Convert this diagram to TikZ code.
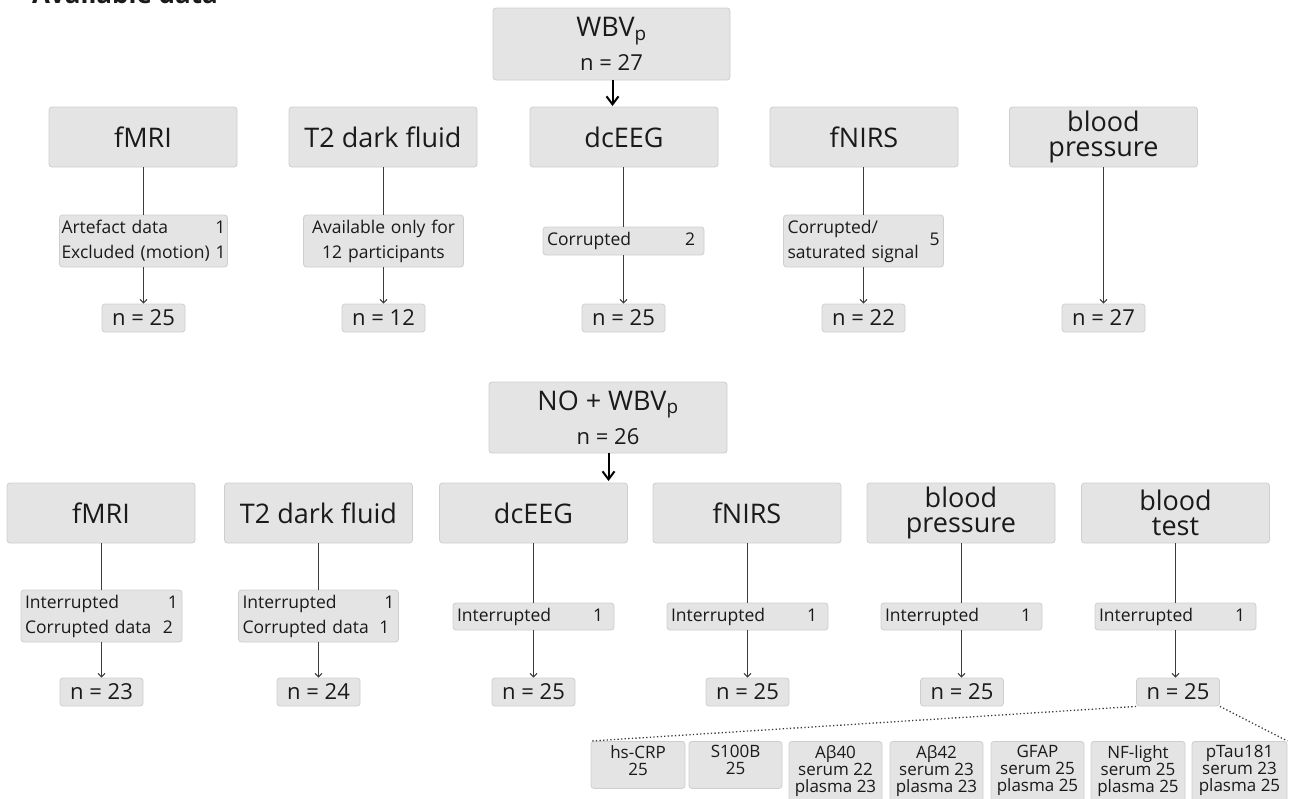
\documentclass[tikz,border=0pt]{standalone}
\usepackage{fontspec}
\setmainfont{Open Sans}
\usetikzlibrary{arrows.meta}
\definecolor{boxfill}{HTML}{E4E4E4}
\definecolor{boxline}{HTML}{CECECE}
\definecolor{conncol}{HTML}{3C3C3C}
\definecolor{txt}{HTML}{1A1A1A}
\begin{document}
\begin{tikzpicture}[x=1pt,y=-1pt,
  box/.style={draw=boxline, fill=boxfill, rounded corners=3pt, line width=0.8pt, inner sep=0pt, text=txt},
  cat/.style={box, minimum width=188, minimum height=60, align=center, font=\fontsize{27}{25}\selectfont},
  topbox/.style={box, align=center, font=\fontsize{22}{34}\selectfont},
  nbox/.style={box, minimum width=83, minimum height=28, font=\fontsize{22}{22}\selectfont},
  ex/.style={box, inner xsep=4pt, align=left, font=\fontsize{17.5}{25}\selectfont},
  bbox/.style={box, anchor=north},
  btext/.style={anchor=north, inner sep=0pt, align=center, text=txt, font=\fontsize{17}{17}\selectfont},
  conn/.style={line width=1.1pt, draw=conncol},
  arr/.style={conn, -{Straight Barb[length=3.5pt,width=7pt]}},
  bigarr/.style={line width=2pt, draw=black, -{Straight Barb[length=8pt,width=12pt]}},
  dotline/.style={line width=1.3pt, draw=conncol, dash pattern=on 1.3pt off 2.3pt}
]
\useasboundingbox (0,0) rectangle (1289,798);

% title (cut by the upper edge, as in the reference)
\node[anchor=base west, inner sep=0pt, text=txt, font=\bfseries\fontsize{26}{26}\selectfont] (title) at (32,3) {Available data};

% ---------------- upper part ----------------
\node[topbox, minimum width=237, minimum height=72] (top) at (611.5,44) {{\fontsize{27}{27}\selectfont WBV\textsubscript{p}}\\n = 27};
\coordinate (a1) at (612.5,106);
\draw[bigarr] (top.south -| a1) -- (a1);

\node[cat] (c1) at (143,137) {fMRI};
\node[cat] (c2) at (383,137) {T2 dark fluid};
\node[cat] (c3) at (624,137) {dcEEG};
\node[cat] (c4) at (864,137) {fNIRS};
\node[cat] (c5) at (1103.5,137) {blood\\pressure};

\node[ex, minimum height=52, inner xsep=2pt, text width=164] (e1) at (143.5,241) {\mbox{Artefact data}\hfill 1\\\mbox{Excluded (motion) 1}};
\node[ex, minimum height=52, text width=152, align=center] (e2) at (383.5,241) {Available only for\\12 participants};
\node[ex, minimum height=28, text width=153] (e3) at (623.5,241) {Corrupted\hfill 2\hspace*{5pt}};
\node[ex, minimum height=52, text width=152] (e4) at (863.5,241) {\begin{tabular}{@{}l@{}}Corrupted/\\\mbox{saturated signal}\end{tabular}\hfill 5};

\node[nbox] (n1) at (143.5,318) {n = 25};
\node[nbox] (n2) at (383.5,318) {n = 12};
\node[nbox] (n3) at (623.5,318) {n = 25};
\node[nbox] (n4) at (863.5,318) {n = 22};
\node[nbox] (n5) at (1103.5,318) {n = 27};

\foreach \i in {1,...,4}{
  \draw[conn] (c\i.south -| e\i.north) -- (e\i.north);
  \draw[arr] (e\i.south) -- (e\i.south |- n\i.north);
}
\draw[arr] (c5) -- (n5);

% ---------------- lower part ----------------
\node[topbox, minimum width=238, minimum height=71] (mid) at (608,417.5) {{\fontsize{27}{27}\selectfont NO + WBV\textsubscript{p}}\\n = 26};
\coordinate (a2) at (608.5,481);
\draw[bigarr] (mid.south -| a2) -- (a2);

\node[cat] (d1) at (101,513) {fMRI};
\node[cat] (d2) at (318.5,513) {T2 dark fluid};
\node[cat] (d3) at (533.5,513) {dcEEG};
\node[cat] (d4) at (747,513) {fNIRS};
\node[cat] (d5) at (961,513) {blood\\pressure};
\node[cat] (d6) at (1175.5,513) {blood\\test};

\node[ex, minimum height=52, text width=153] (f1) at (101.5,616) {Interrupted\hfill 1\hspace*{5pt}\\\mbox{Corrupted data}\hfill 2\hspace*{5pt}};
\node[ex, minimum height=52, text width=152] (f2) at (318.5,616) {Interrupted\hfill 1\hspace*{5pt}\\\mbox{Corrupted data}\hfill 1\hspace*{5pt}};
\node[ex, minimum height=27, text width=153] (f3) at (533.5,616.5) {Interrupted\hfill 1\hspace*{7pt}};
\node[ex, minimum height=27, text width=153] (f4) at (747.5,616.5) {Interrupted\hfill 1\hspace*{7pt}};
\node[ex, minimum height=27, text width=153] (f5) at (961.5,616.5) {Interrupted\hfill 1\hspace*{7pt}};
\node[ex, minimum height=27, text width=153] (f6) at (1175.5,616.5) {Interrupted\hfill 1\hspace*{7pt}};

\node[nbox] (m1) at (101.5,692) {n = 23};
\node[nbox] (m2) at (318.5,692) {n = 24};
\node[nbox] (m3) at (533.5,692) {n = 25};
\node[nbox] (m4) at (747.5,692) {n = 25};
\node[nbox] (m5) at (962,692) {n = 25};
\node[nbox] (m6) at (1178,692) {n = 25};

\foreach \i in {1,...,6}{
  \draw[conn] (d\i.south -| f\i.north) -- (f\i.north);
  \draw[arr] (f\i.south) -- (f\i.south |- m\i.north);
}

% blood test details
\node[bbox, minimum width=94, minimum height=47] (b1) at (638,741) {};
\node[bbox, minimum width=93, minimum height=47] (b2) at (735.5,741) {};
\node[bbox, minimum width=93, minimum height=62] (b3) at (835.5,741) {};
\node[bbox, minimum width=93, minimum height=62] (b4) at (936.5,741) {};
\node[bbox, minimum width=93, minimum height=62] (b5) at (1037.5,741) {};
\node[bbox, minimum width=94, minimum height=62] (b6) at (1138,741) {};
\node[bbox, minimum width=95, minimum height=62] (b7) at (1239.5,741) {};
\node[btext] (t1) at (638,745) {hs-CRP\\25};
\node[btext] (t2) at (735.5,745) {S100B\\25};
\node[btext] (t3) at (835.5,745) {Aβ40\\serum 22\\plasma 23};
\node[btext] (t4) at (936.5,745) {Aβ42\\serum 23\\plasma 23};
\node[btext] (t5) at (1037.5,745) {GFAP\\serum 25\\plasma 25};
\node[btext] (t6) at (1138,745) {NF-light\\serum 25\\plasma 25};
\node[btext] (t7) at (1239.5,745) {pTau181\\serum 23\\plasma 25};

\draw[dotline] (m6.south west) -- (b1.north west);
\draw[dotline] (m6.south east) -- (b7.north east);
\end{tikzpicture}
\end{document}
